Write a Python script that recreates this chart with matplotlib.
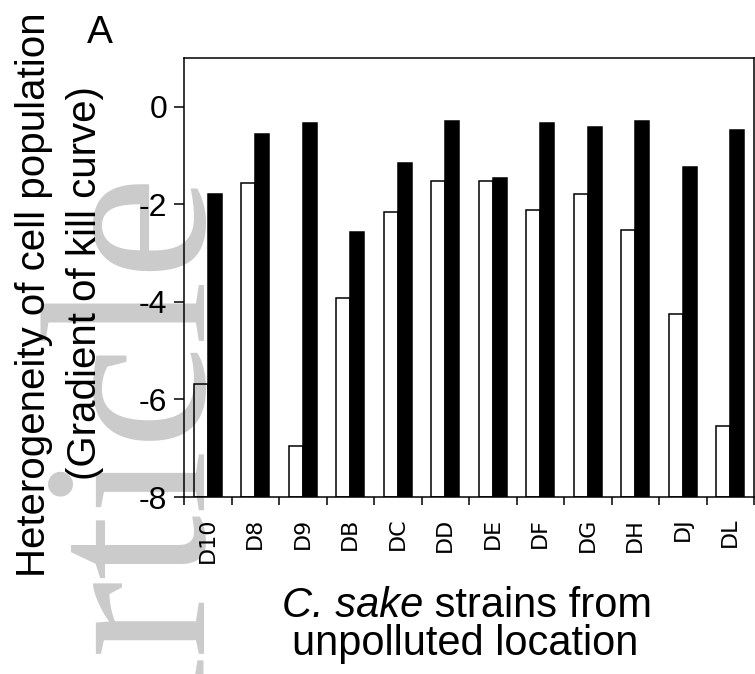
import numpy as np
import matplotlib
matplotlib.use("Agg")
import matplotlib.pyplot as plt

# ---------------------------------------------------
# DATA
# ---------------------------------------------------

strains = ["D10", "D8", "D9", "DB", "DC", "DD", "DE", "DF", "DG", "DH", "DJ", "DL"]
white_vals = [-5.68, -1.56, -6.96, -3.93, -2.15, -1.52, -1.52, -2.11, -1.79, -2.53, -4.25, -6.54]
black_vals = [-1.78, -0.56, -0.34, -2.56, -1.15, -0.30, -1.46, -0.34, -0.41, -0.30, -1.23, -0.48]
y_ticks = [0, -2, -4, -6, -8]

BASE = -8
W, H = 755, 674

plt.rcParams["axes.unicode_minus"] = False
plt.rcParams["font.family"] = ["Liberation Sans", "DejaVu Sans"]

fig = plt.figure(figsize=(W / 100, H / 100), dpi=100)


def fx(px):
    return px / W


def fy(py):
    return 1 - py / H


# watermark behind everything
fig.text(fx(205), fy(175), "Accepted Article", rotation=90, rotation_mode="anchor",
         ha="right", va="baseline", family="Liberation Serif", fontsize=169,
         color="#cbcbcb", zorder=-5)

ax = fig.add_axes([fx(184), fy(497), fx(754) - fx(184), fy(58) - fy(497)])
ax.patch.set_alpha(0)

x = np.arange(len(strains))
bw = 0.29
ax.bar(x - bw / 2, np.array(white_vals) - BASE, bottom=BASE, width=bw,
       facecolor="none", edgecolor="black", linewidth=1.1)
ax.bar(x + bw / 2, np.array(black_vals) - BASE, bottom=BASE, width=bw,
       facecolor="black", edgecolor="black", linewidth=1.1)

ax.set_xlim(-0.5, len(strains) - 0.5)
ax.set_ylim(-8, 1)

ax.set_yticks(y_ticks)
ax.set_yticklabels([str(t) for t in y_ticks], fontsize=23)
ax.tick_params(axis="y", direction="out", length=7, width=1.1, pad=5)

ax.set_xticks(x)
ax.set_xticklabels(strains, rotation=90, fontsize=16, family="DejaVu Sans")
ax.tick_params(axis="x", which="major", length=0, pad=15)
ax.set_xticks(np.arange(len(strains) + 1) - 0.5, minor=True)
ax.tick_params(axis="x", which="minor", direction="out", length=6, width=1.1)

for sp in ax.spines.values():
    sp.set_linewidth(1.1)

# axis titles
fig.text(fx(45), fy(295), "Heterogeneity of cell population", rotation=90,
         rotation_mode="anchor", ha="center", va="baseline", fontsize=29)
fig.text(fx(96), fy(283), "(Gradient of kill curve)", rotation=90,
         rotation_mode="anchor", ha="center", va="baseline", fontsize=29)

t_it = fig.text(fx(282), fy(617), "C. sake", style="italic", ha="left",
                va="baseline", fontsize=30)
fig.canvas.draw()
fig.add_artist(plt.Annotation(" strains from", xy=(1, 0), xycoords=t_it,
                              ha="left", va="bottom", fontsize=30))
fig.text(fx(465), fy(655), "unpolluted location", ha="center",
         va="baseline", fontsize=30)

fig.text(fx(87), fy(43), "A", ha="left", va="baseline", fontsize=28)

fig.savefig("out.png", dpi=100)
